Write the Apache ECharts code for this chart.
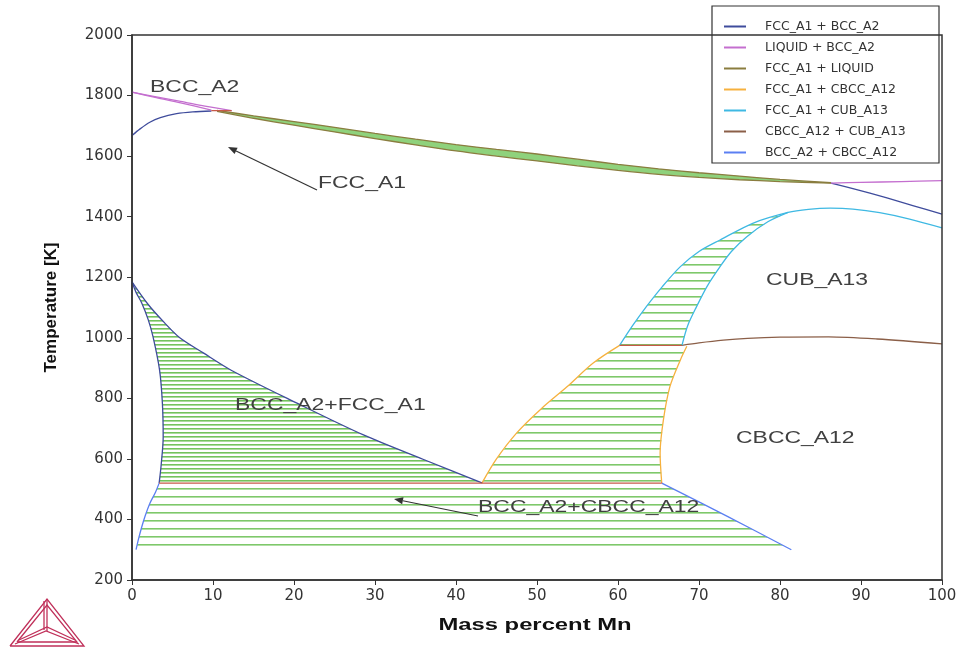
<!DOCTYPE html>
<html>
<head>
<meta charset="utf-8">
<script src="https://cdn.jsdelivr.net/npm/echarts@6/dist/echarts.min.js"></script>
<style>
  html, body { margin: 0; background: #fff; }
  #chart { width: 961px; height: 650px; }
</style>
</head>
<body>
<div id="chart"></div>
<script>
// axes
const xTicks = [0, 10, 20, 30, 40, 50, 60, 70, 80, 90, 100];
const yTicks = [200, 400, 600, 800, 1000, 1200, 1400, 1600, 1800, 2000];

// phase boundaries, [mass % Mn, T in K]
// FCC_A1 + BCC_A2
const deltaFe = [[0, 1668], [1, 1690], [2.2, 1712], [3.5, 1727], [5.5, 1740], [7.5, 1746], [9.8, 1749]];
const deltaMn = [[86.3, 1511], [89, 1493], [93.2, 1462], [96.5, 1436], [100, 1408]];
const alphaBcc = [[0, 1185], [0.5, 1150], [1.2, 1115], [2.0, 1060], [2.6, 1003], [3.4, 894], [3.75, 785], [3.85, 672], [3.6, 580], [3.35, 520]];
const gammaFcc = [[0, 1185], [2.0, 1110], [4.0, 1050], [5.9, 1000], [8.8, 950], [12.3, 892], [20.3, 785], [28.5, 680], [36, 598], [43.2, 521]];
// LIQUID + BCC_A2
const liqBccFe1 = [[0, 1811], [3, 1796], [6, 1781], [9, 1765], [12.3, 1750]];
const liqBccFe2 = [[0, 1811], [3, 1793], [6, 1776], [9.8, 1752]];
const liqBccMn = [[86.3, 1511], [90, 1513], [95, 1516], [100, 1519]];
// FCC_A1 + LIQUID
const liquidus = [[10.5, 1751], [15, 1733], [20, 1714], [25, 1695], [30, 1675], [35, 1656], [40, 1638], [45, 1622], [50, 1607], [55, 1590], [60, 1573], [65, 1558], [70, 1545], [75, 1534], [80, 1523], [86.3, 1512]];
const solidus = [[10.5, 1748], [15, 1725], [20, 1702], [25, 1680], [30, 1658], [35, 1637], [40, 1617], [45, 1600], [50, 1584], [55, 1568], [60, 1553], [65, 1540], [70, 1530], [75, 1522], [80, 1516], [86.3, 1511]];
// FCC_A1 + CBCC_A12
const fccCbccLeft = [[43.2, 520], [45, 600], [47.5, 686], [50.5, 765], [53.7, 838], [56.9, 916], [60.2, 975]];
const fccCbccRight = [[65.4, 520], [65.2, 619], [65.6, 728], [66.4, 838], [67.7, 927], [68.5, 972]];
// FCC_A1 + CUB_A13
const cubOuterRise = [[60.2, 975], [61.8, 1040], [63.5, 1103], [65.5, 1170], [67.7, 1235], [70, 1285], [72.6, 1323], [76.7, 1379], [81, 1414]];
const cubOuterFall = [[81, 1414], [83.5, 1424], [86.2, 1428], [89, 1425], [92.3, 1413], [96, 1392], [100, 1363]];
const cubInner = [[67.9, 975], [68.6, 1040], [69.7, 1103], [71, 1170], [72.6, 1235], [74, 1285], [75.9, 1334], [78.5, 1383], [81, 1414]];
// CBCC_A12 + CUB_A13
const cbccCub = [[67.9, 975], [70, 983], [73, 992], [76, 998], [80, 1002], [86, 1003], [92, 996], [100, 980]];
// BCC_A2 + CBCC_A12
const bccCbccLeft = [[3.35, 520], [2.9, 490], [2.2, 453], [1.6, 410], [1.2, 375], [0.8, 335], [0.5, 300]];
const bccCbccRight = [[65.4, 520], [73.5, 410], [81.4, 300]];
// three-phase lines
const peritectic = [[9.8, 1750], [12.3, 1750]];
const eutectoidHigh = [[60.2, 975], [67.9, 975]];
const eutectoidLow = [[3.35, 520], [65.4, 520]];

const legendNames = ['FCC_A1 + BCC_A2', 'LIQUID + BCC_A2', 'FCC_A1 + LIQUID', 'FCC_A1 + CBCC_A12',
  'FCC_A1 + CUB_A13', 'CBCC_A12 + CUB_A13', 'BCC_A2 + CBCC_A12'];
const colors = {
  'FCC_A1 + BCC_A2': '#3f4c9c',
  'LIQUID + BCC_A2': '#c46fcf',
  'FCC_A1 + LIQUID': '#8a7d3f',
  'FCC_A1 + CBCC_A12': '#f6b13e',
  'FCC_A1 + CUB_A13': '#3fb9e3',
  'CBCC_A12 + CUB_A13': '#8b5f48',
  'BCC_A2 + CBCC_A12': '#5b7ff2'
};
const invariantColor = '#c65a48';

// striped fill like the tie lines
function stripes(step, color) {
  const c = document.createElement('canvas');
  c.width = 8; c.height = step;
  const g = c.getContext('2d');
  g.fillStyle = color;
  g.fillRect(0, 0, 8, 1.6);
  return { image: c, repeat: 'repeat' };
}

function region(points, fill) {
  return {
    type: 'custom',
    silent: true,
    z: 1,
    clip: true,
    data: [[0, 0]],
    renderItem: (params, api) => ({
      type: 'polygon',
      shape: { points: points.map(p => api.coord(p)) },
      style: { fill: fill }
    })
  };
}

function curve(name, data, color) {
  return {
    name: name,
    type: 'line',
    data: data,
    showSymbol: false,
    smooth: 0.3,
    z: 3,
    lineStyle: { color: color, width: 1.3 },
    itemStyle: { color: color }
  };
}

const series = [
  region(alphaBcc.concat(gammaFcc.slice().reverse()), stripes(4, '#74c35c')),
  region(bccCbccRight.concat(bccCbccLeft.slice().reverse()), stripes(8, '#7ec86a')),
  region(fccCbccLeft.concat(fccCbccRight.slice().reverse()), stripes(8, '#7ec86a')),
  region(cubOuterRise.concat(cubInner.slice().reverse()), stripes(8, '#7ec86a')),
  region(liquidus.concat(solidus.slice().reverse()), '#8fd27c'),

  curve('FCC_A1 + BCC_A2', deltaFe, colors['FCC_A1 + BCC_A2']),
  curve('LIQUID + BCC_A2', liqBccFe1, colors['LIQUID + BCC_A2']),
  curve('FCC_A1 + LIQUID', liquidus, colors['FCC_A1 + LIQUID']),
  curve('FCC_A1 + CBCC_A12', fccCbccLeft, colors['FCC_A1 + CBCC_A12']),
  curve('FCC_A1 + CUB_A13', cubOuterRise.concat(cubOuterFall.slice(1)), colors['FCC_A1 + CUB_A13']),
  curve('CBCC_A12 + CUB_A13', cbccCub, colors['CBCC_A12 + CUB_A13']),
  curve('BCC_A2 + CBCC_A12', bccCbccLeft, colors['BCC_A2 + CBCC_A12']),

  curve('FCC_A1 + BCC_A2', deltaMn, colors['FCC_A1 + BCC_A2']),
  curve('FCC_A1 + BCC_A2', alphaBcc, colors['FCC_A1 + BCC_A2']),
  curve('FCC_A1 + BCC_A2', gammaFcc, colors['FCC_A1 + BCC_A2']),
  curve('LIQUID + BCC_A2', liqBccFe2, colors['LIQUID + BCC_A2']),
  curve('LIQUID + BCC_A2', liqBccMn, colors['LIQUID + BCC_A2']),
  curve('FCC_A1 + LIQUID', solidus, colors['FCC_A1 + LIQUID']),
  curve('FCC_A1 + CBCC_A12', fccCbccRight, colors['FCC_A1 + CBCC_A12']),
  curve('FCC_A1 + CUB_A13', cubInner, colors['FCC_A1 + CUB_A13']),
  curve('BCC_A2 + CBCC_A12', bccCbccRight, colors['BCC_A2 + CBCC_A12']),

  curve('invariant', peritectic, invariantColor),
  curve('invariant', eutectoidHigh, invariantColor),
  curve('invariant', eutectoidLow, invariantColor)
];

// arrow helper for the label pointers
function arrow(tail, tip) {
  const dx = tip[0] - tail[0], dy = tip[1] - tail[1];
  const len = Math.hypot(dx, dy), ux = dx / len, uy = dy / len;
  const bx = tip[0] - ux * 9, by = tip[1] - uy * 9;
  return [
    { type: 'line', z: 5, shape: { x1: tail[0], y1: tail[1], x2: bx, y2: by }, style: { stroke: '#333', lineWidth: 1.2 } },
    { type: 'polygon', z: 5, shape: { points: [tip, [bx - uy * 3.5, by + ux * 3.5], [bx + uy * 3.5, by - ux * 3.5]] }, style: { fill: '#333' } }
  ];
}

function label(text, x, y) {
  return {
    type: 'text', x: x, y: y, scaleX: 1.35, z: 5,
    style: { text: text, font: '17px "Liberation Sans", Arial', fill: '#404040', verticalAlign: 'middle' }
  };
}

const logoColor = '#c0305a';
const logo = [
  [[10, 646], [47, 599], [84, 646], [10, 646]],
  [[17, 642], [47, 605], [77, 642], [17, 642]],
  [[47, 599], [47, 631]],
  [[44, 601], [44, 630]],
  [[15, 644], [46, 631], [79, 644]],
  [[19, 640], [47, 627], [75, 640]]
].map(pts => ({ type: 'polyline', z: 5, shape: { points: pts }, style: { stroke: logoColor, lineWidth: 1.3, fill: null } }));

const chart = echarts.init(document.getElementById('chart'));
chart.setOption({
  animation: false,
  backgroundColor: '#fff',
  grid: { left: 132, right: 19, top: 35, bottom: 70 },
  xAxis: {
    type: 'value', min: 0, max: 100, interval: 10,
    axisLine: { lineStyle: { color: '#333', width: 1.5 } },
    axisTick: { show: true, length: 5, lineStyle: { color: '#333' } },
    axisLabel: { color: '#333', fontSize: 15, fontFamily: 'DejaVu Sans', margin: 9,
      customValues: xTicks, formatter: v => String(v) },
    splitLine: { show: false }
  },
  yAxis: {
    type: 'value', min: 200, max: 2000, interval: 200,
    name: 'Temperature [K]', nameLocation: 'middle', nameGap: 72, nameRotate: 90,
    nameTextStyle: { color: '#111', fontSize: 17, fontWeight: 'bold', fontFamily: '"Liberation Sans", Arial' },
    axisLine: { show: true, lineStyle: { color: '#333', width: 1.5 } },
    axisTick: { show: true, length: 5, lineStyle: { color: '#333' } },
    axisLabel: { color: '#333', fontSize: 15, fontFamily: 'DejaVu Sans', margin: 9,
      formatter: v => yTicks.includes(v) ? String(v) : '' },
    splitLine: { show: false }
  },
  legend: {
    data: legendNames,
    orient: 'vertical',
    left: 724, top: 20,
    padding: 0,
    itemGap: 8,
    itemWidth: 22, itemHeight: 2,
    icon: 'rect',
    textStyle: { color: '#333', fontSize: 12.5, fontFamily: 'DejaVu Sans', lineHeight: 12, padding: [0, 0, 0, 14] }
  },
  graphic: [
    { type: 'rect', z: 3, shape: { x: 712, y: 6, width: 227, height: 157 }, style: { fill: '#fff', stroke: '#333', lineWidth: 1.2 } },
    { type: 'rect', z: 10, shape: { x: 132, y: 35, width: 810, height: 545 }, style: { fill: null, stroke: '#333', lineWidth: 1.5 } },
    label('BCC_A2', 150, 87),
    label('FCC_A1', 318, 183),
    label('CUB_A13', 766, 280),
    label('BCC_A2+FCC_A1', 235, 405),
    label('CBCC_A12', 736, 438),
    label('BCC_A2+CBCC_A12', 478, 507),
    {
      type: 'text', x: 535, y: 625, scaleX: 1.4, z: 5, originX: 0,
      style: { text: 'Mass percent Mn', font: 'bold 17px "Liberation Sans", Arial', fill: '#111', align: 'center', verticalAlign: 'middle' }
    }
  ].concat(arrow([317, 190], [228, 147]), arrow([478, 516], [394, 499]), logo),
  series: series
});
</script>
</body>
</html>
